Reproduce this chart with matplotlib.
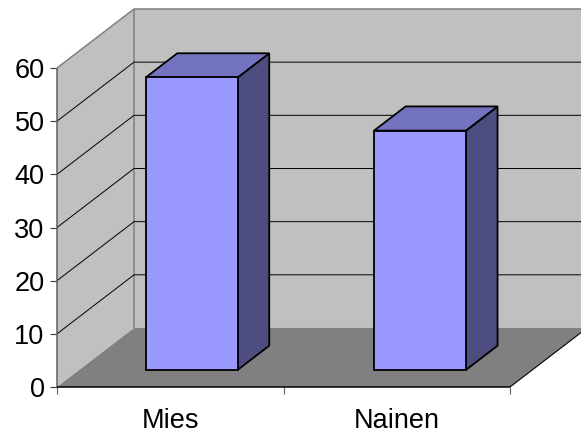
"""3D looking column chart drawn by hand on a flat axes."""
import matplotlib
matplotlib.use("Agg")
import matplotlib.pyplot as plt
from matplotlib.patches import Polygon

categories = ["Mies", "Nainen"]
values = [55, 45]
y_ticks = [0, 10, 20, 30, 40, 50, 60]

W, H = 581, 434
DEPTH_X = 0.34    # x units for the full depth of the box
DEPTH_Y = 11.1    # y units for the full depth of the box
BAR_WIDTH = 0.406
BAR_SPREAD = 0.004  # bars sit a touch further apart than the category centres
BAR_NEAR = 0.29
BAR_FAR = 0.70

plt.rcParams["font.family"] = ["Liberation Sans", "DejaVu Sans"]


def proj(x, y, d=0.0):
    # d is the depth, 0 at the front of the box and 1 at the back wall
    return (x + d * DEPTH_X, y + d * DEPTH_Y)


def face(ax, pts, color, lw=0.0, edge="none", z=1):
    ax.add_patch(Polygon([proj(*p) for p in pts], closed=True, facecolor=color,
                         edgecolor=edge, linewidth=lw, zorder=z, clip_on=False,
                         joinstyle="miter"))


def line(ax, pts, color, lw, z=2):
    xy = [proj(*p) for p in pts]
    ax.plot([p[0] for p in xy], [p[1] for p in xy], color=color, lw=lw, zorder=z,
            clip_on=False, solid_capstyle="butt")


def main():
    fig = plt.figure(figsize=(W / 100, H / 100), dpi=100)
    ax = fig.add_axes([57 / W, 1 - 387 / H, 453 / W, 319 / H])
    ax.set_xlim(0, 2)
    ax.set_ylim(0, 60)
    ax.patch.set_visible(False)
    for s in ax.spines.values():
        s.set_visible(False)

    top = y_ticks[-1]
    # walls and floor
    face(ax, [(0, 0, 1), (2, 0, 1), (2, top, 1), (0, top, 1)], "#c0c0c0")
    face(ax, [(0, 0, 0), (0, 0, 1), (0, top, 1), (0, top, 0)], "#c0c0c0")
    face(ax, [(0, 0, 0), (2, 0, 0), (2, 0, 1), (0, 0, 1)], "#808080")

    # gray outline of the walls
    line(ax, [(0, top, 0), (0, top, 1), (2, top, 1)], "#808080", 1.1)
    line(ax, [(0, 0, 1), (0, top, 1)], "#808080", 1.1)

    # grid lines run along the side wall and then the back wall
    for t in y_ticks[1:-1]:
        line(ax, [(0, t, 0), (0, t, 1), (2, t, 1)], "black", 0.7)
    line(ax, [(2, 0, 0), (2, 0, 1)], "black", 0.8)

    # bars
    for i, v in enumerate(values):
        c = i + 0.5 + (2 * i - 1) * BAR_SPREAD
        x0 = c - BAR_WIDTH / 2
        x1 = c + BAR_WIDTH / 2
        n, f = BAR_NEAR, BAR_FAR
        face(ax, [(x1, 0, n), (x1, 0, f), (x1, v, f), (x1, v, n)], "#4d4d80", 1.3, "black", 3)
        face(ax, [(x0, v, n), (x1, v, n), (x1, v, f), (x0, v, f)], "#7373bf", 1.3, "black", 3)
        face(ax, [(x0, 0, n), (x1, 0, n), (x1, v, n), (x0, v, n)], "#9999ff", 1.3, "black", 4)

    ax.set_xticks([0, 1, 2])
    ax.set_xticklabels([])
    ax.set_yticks(y_ticks)
    ax.tick_params(axis="y", labelsize=19.5, length=5, width=0.8, pad=4, color="#404040")
    ax.tick_params(axis="x", length=5, width=0.8, color="#606060")
    for i, c in enumerate(categories):
        ax.annotate(c, (i + 0.5, 0), xytext=(0, -29.5), textcoords="offset points",
                    ha="center", va="baseline", fontsize=19.5, annotation_clip=False)
    line(ax, [(0, 0), (0, top)], "#606060", 1.1, 5)
    line(ax, [(0, 0), (2, 0)], "black", 1.1, 5)

    fig.savefig("out.png", dpi=100)


if __name__ == "__main__":
    main()
